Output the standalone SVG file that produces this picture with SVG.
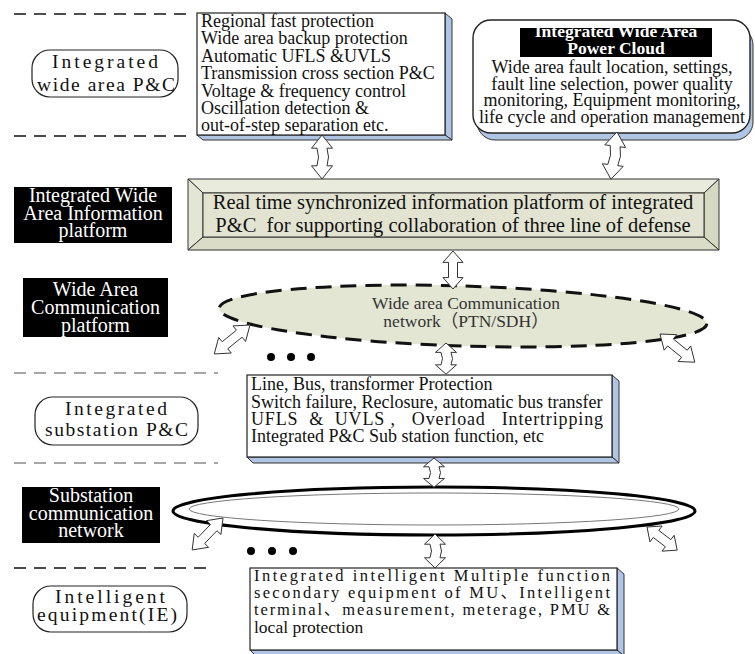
<svg xmlns="http://www.w3.org/2000/svg" width="755" height="654" viewBox="0 0 755 654">
<style>
.sep{stroke:#111;stroke-width:1.3;stroke-dasharray:12 8;fill:none}
.sep2{stroke:#8a8a8a;stroke-width:1.3;stroke-dasharray:12 8;fill:none}
.pill{fill:#fff;stroke:#222;stroke-width:1.2}
.mono{font-family:"Liberation Serif","DejaVu Serif",serif;font-size:19.5px;fill:#111;text-anchor:middle}
.blk{fill:#000}
.wt{font-family:"Liberation Serif","Noto Sans CJK SC",serif;font-size:20px;fill:#fff;text-anchor:middle}
.front{fill:#fff;stroke:#222;stroke-width:1.2}
.side{fill:#b0c4e4;stroke:#333;stroke-width:1}
.tx{font-family:"Liberation Serif","Noto Sans CJK SC",serif;font-size:18px;fill:#111}
.ctr{text-anchor:middle}
.bev{stroke:#333;stroke-width:1}
.arr{fill:#fff;stroke:#333;stroke-width:1}
</style>
<defs>
<path id="dA" d="M0,0 L10.5,12 L5,12 L6.5,20 L5,28 L10.5,28 L0,40 L-10.5,28 L-5,28 L-3.5,20 L-5,12 L-10.5,12 Z" vector-effect="non-scaling-stroke"/>
<path id="dS" d="M0,0 L10,12 L4.5,12 L4.5,28 L10,28 L0,40 L-10,28 L-4.5,28 L-4.5,12 L-10,12 Z" vector-effect="non-scaling-stroke"/>
</defs>

<g id="separators">
<line class="sep" x1="14" y1="14" x2="190" y2="14"/>
<line class="sep" x1="14" y1="136" x2="190" y2="136"/>
<line class="sep2" x1="14" y1="373" x2="218" y2="373"/>
<line class="sep2" x1="14" y1="463" x2="218" y2="463"/>
<line class="sep" x1="14" y1="568" x2="214" y2="568"/>
</g>

<g id="lbl-wide-area-pc">
<rect class="pill" x="32" y="50" width="146" height="47" rx="18"/>
<text class="mono" x="105" y="68" textLength="106" lengthAdjust="spacing">Integrated</text>
<text class="mono" x="106" y="91" textLength="138" lengthAdjust="spacing">wide area P&amp;C</text>
</g>

<g id="lbl-info-platform">
<rect class="blk" x="14" y="187" width="158" height="56"/>
<text class="wt" x="93" y="202">Integrated Wide</text>
<text class="wt" x="93" y="219.5">Area Information</text>
<text class="wt" x="93" y="237">platform</text>
</g>

<g id="lbl-comm-platform">
<rect class="blk" x="23" y="278" width="145" height="59"/>
<text class="wt" x="95.5" y="296">Wide Area</text>
<text class="wt" x="95.5" y="314">Communication</text>
<text class="wt" x="95.5" y="332">platform</text>
</g>

<g id="lbl-substation-pc">
<rect class="pill" x="35" y="397" width="163" height="48" rx="18"/>
<text class="mono" x="116" y="415" textLength="102" lengthAdjust="spacing">Integrated</text>
<text class="mono" x="116.5" y="436" textLength="143" lengthAdjust="spacing">substation P&amp;C</text>
</g>

<g id="lbl-sub-comm">
<rect class="blk" x="22" y="487" width="138" height="56"/>
<text class="wt" x="91" y="502">Substation</text>
<text class="wt" x="91" y="519.5">communication</text>
<text class="wt" x="91" y="537">network</text>
</g>

<g id="lbl-ie">
<rect class="pill" x="33" y="586" width="154" height="46" rx="18"/>
<text class="mono" x="110" y="603" textLength="110" lengthAdjust="spacing">Intelligent</text>
<text class="mono" x="107" y="621" textLength="140" lengthAdjust="spacing">equipment(IE)</text>
</g>

<g id="box-wide-area-functions">
<polygon class="side" points="445,13 452,19 452,140 445,135"/>
<polygon class="side" points="197,135 445,135 452,140 203,140"/>
<rect class="front" x="197" y="13" width="248" height="122"/>
<text class="tx" x="201" y="27">Regional fast protection</text>
<text class="tx" x="201" y="44.4">Wide area backup protection</text>
<text class="tx" x="201" y="61.8">Automatic UFLS &amp;UVLS</text>
<text class="tx" x="201" y="79.2">Transmission cross section P&amp;C</text>
<text class="tx" x="201" y="96.6">Voltage &amp; frequency control</text>
<text class="tx" x="201" y="114">Oscillation detection &amp;</text>
<text class="tx" x="201" y="131.4">out-of-step separation etc.</text>
</g>

<g id="box-power-cloud">
<rect x="477" y="27" width="276" height="113" rx="18" fill="#b0c4e4" stroke="#333" stroke-width="1"/>
<rect x="473" y="20" width="277" height="113" rx="18" fill="#fff" stroke="#222" stroke-width="1.4"/>
<rect class="blk" x="520" y="28" width="192" height="29"/>
<text class="wt ctr" x="616" y="37" style="font-weight:bold;font-size:17.5px">Integrated Wide Area</text>
<text class="wt ctr" x="616" y="54" style="font-weight:bold;font-size:17.5px">Power Cloud</text>
<text class="tx ctr" x="612" y="73">Wide area fault location, settings,</text>
<text class="tx ctr" x="612" y="89.5">fault line selection, power quality</text>
<text class="tx ctr" x="612" y="106">monitoring, Equipment monitoring,</text>
<text class="tx ctr" x="612" y="122.5">life cycle and operation management</text>
</g>

<g id="platform">
<polygon class="bev" fill="#e9ebdc" points="188,179 719,179 704,193 203,193"/>
<polygon class="bev" fill="#e4e6d5" points="188,179 203,193 203,237 188,250"/>
<polygon class="bev" fill="#d5d9c2" points="719,179 719,250 704,237 704,193"/>
<polygon class="bev" fill="#dadcc7" points="188,250 719,250 704,237 203,237"/>
<rect class="bev" x="203" y="193" width="501" height="44" fill="#e2e4d1"/>
<text class="tx ctr" x="453" y="209" style="font-size:20.5px">Real time synchronized information platform of integrated</text>
<text class="tx ctr" x="453" y="232" style="font-size:20.5px" xml:space="preserve">P&amp;C  for supporting collaboration of three line of defense</text>
</g>

<g id="wide-area-network">
<ellipse cx="463" cy="316" rx="244" ry="30" transform="rotate(1.8 463 316)" fill="#e3e6d3" stroke="#111" stroke-width="3" stroke-dasharray="16 9"/>
<text class="tx ctr" x="466" y="309" style="font-size:17.5px;fill:#333">Wide area Communication</text>
<text class="tx ctr" x="466" y="327" style="font-size:17.5px;fill:#333">network（PTN/SDH）</text>
</g>

<g id="dots-1">
<circle cx="271" cy="357" r="4"/>
<circle cx="291" cy="357" r="4"/>
<circle cx="311" cy="357" r="4"/>
</g>

<g id="box-substation-functions">
<polygon class="side" points="612,375 619,381 619,463 612,457"/>
<polygon class="side" points="247,457 612,457 619,463 253,463"/>
<rect class="front" x="247" y="375" width="365" height="82"/>
<text class="tx" x="251" y="390">Line, Bus, transformer Protection</text>
<text class="tx" x="251" y="407.5">Switch failure, Reclosure, automatic bus transfer</text>
<text class="tx" x="251" y="425" textLength="352" lengthAdjust="spacing" xml:space="preserve">UFLS  &amp;  UVLS ,   Overload   Intertripping</text>
<text class="tx" x="251" y="442">Integrated P&amp;C Sub station function, etc</text>
</g>

<g id="substation-network">
<ellipse cx="434" cy="511" rx="261" ry="24" fill="#fff" stroke="#000" stroke-width="3"/>
<ellipse cx="434" cy="509" rx="245" ry="16" fill="none" stroke="#777" stroke-width="1"/>
</g>

<g id="dots-2">
<circle cx="251" cy="551" r="4"/>
<circle cx="272" cy="551" r="4"/>
<circle cx="293" cy="551" r="4"/>
</g>

<g id="box-ie-functions">
<polygon class="side" points="617,568 624,574 624,656 617,650"/>
<polygon class="side" points="250,650 617,650 624,656 256,656"/>
<rect class="front" x="250" y="568" width="367" height="82"/>
<text class="tx" x="254" y="581" style="font-size:16.5px" textLength="356" lengthAdjust="spacing">Integrated intelligent Multiple function</text>
<text class="tx" x="254" y="598" style="font-size:16.5px" textLength="356" lengthAdjust="spacing">secondary equipment of MU、Intelligent</text>
<text class="tx" x="254" y="615" style="font-size:16.5px" textLength="356" lengthAdjust="spacing">terminal、measurement, meterage, PMU &amp;</text>
<text class="tx" x="254" y="633" style="font-size:17.5px">local protection</text>
</g>

<g id="connectors">
<use href="#dA" class="arr" transform="translate(322,135) scale(1,1.1)"/>
<use href="#dA" class="arr" transform="translate(617,132) rotate(7.3) scale(1,1.19)"/>
<use href="#dS" class="arr" transform="translate(453,251) scale(1,0.95)"/>
<use href="#dA" class="arr" transform="translate(446,343) scale(1,0.78)"/>
<use href="#dA" class="arr" transform="translate(434,458) scale(1,0.73)"/>
<use href="#dA" class="arr" transform="translate(435,534) scale(1,0.85)"/>
<use href="#dS" class="arr" transform="translate(250,325) rotate(51) scale(1,1.15)"/>
<use href="#dS" class="arr" transform="translate(660,334) rotate(-51) scale(1,1.12)"/>
<use href="#dS" class="arr" transform="translate(223,518) rotate(44) scale(1,1.11)"/>
<use href="#dS" class="arr" transform="translate(647,527) rotate(-52.5) scale(1,0.95)"/>
</g>
</svg>
